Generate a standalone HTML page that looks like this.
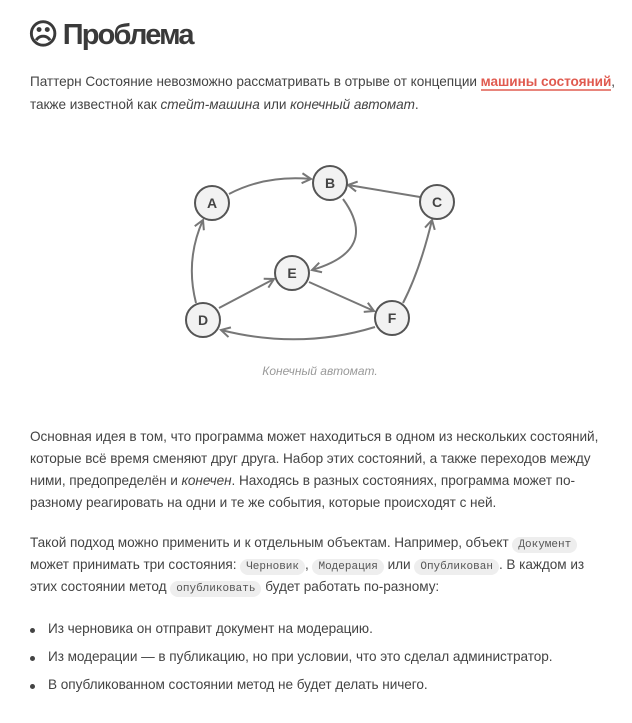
<!DOCTYPE html>
<html><head><meta charset="utf-8"><style>
body{margin:0;width:632px;height:723px;background:#fff;position:relative;overflow:hidden;font-family:"Liberation Sans",sans-serif;color:#444;}
.l{position:absolute;left:30px;font-size:13.6px;white-space:nowrap;letter-spacing:-0.05px;line-height:18px}
h1{position:absolute;left:28px;top:17px;margin:0;font-size:29px;font-weight:bold;color:#3a3a3a;letter-spacing:-1.8px}
a{color:#e05a4f;font-weight:bold;text-decoration:none;border-bottom:2px solid #e8857c}
code{font-family:"Liberation Mono",monospace;font-size:11px;background:#eee;border-radius:8px;padding:2px 6px;color:#555;letter-spacing:0}
.b{position:absolute;left:30px;width:5px;height:5px;border-radius:50%;background:#444}
</style></head><body>
<h1>☹ Проблема</h1>
<div class="l" style="top:73px">Паттерн Состояние невозможно рассматривать в отрыве от концепции <a>машины состояний</a>,</div>
<div class="l" style="top:96px">также известной как <i>стейт-машина</i> или <i>конечный автомат</i>.</div>
<svg style="position:absolute;left:0;top:0" width="632" height="400">
<defs><marker id="m" markerWidth="12" markerHeight="12" refX="10" refY="6" orient="auto" markerUnits="userSpaceOnUse"><path d="M1,1 L10,6 L1,11" fill="none" stroke="#777" stroke-width="2"/></marker></defs>
<g fill="none" stroke="#777" stroke-width="2" marker-end="url(#m)">
<path d="M229,194 Q265,175 311,179"/>
<path d="M420,197 L348,185"/>
<path d="M343,199 Q380,250 312,270"/>
<path d="M219,308 L274,279"/>
<path d="M309,282 L374,311"/>
<path d="M196,303 Q185,260 203,220"/>
<path d="M403,303 Q420,270 432,220"/>
<path d="M375,327 Q300,350 221,330"/>
</g>
<g fill="#f2f2f2" stroke="#555" stroke-width="2">
<circle cx="212" cy="203" r="17"/><circle cx="330" cy="183" r="17"/><circle cx="437" cy="202" r="17"/>
<circle cx="292" cy="273" r="17"/><circle cx="203" cy="320" r="17"/><circle cx="392" cy="318" r="17"/>
</g>
<g font-family="Liberation Sans,sans-serif" font-weight="bold" font-size="14" fill="#444" text-anchor="middle">
<text x="212" y="208">A</text><text x="330" y="188">B</text><text x="437" y="207">C</text>
<text x="292" y="278">E</text><text x="203" y="325">D</text><text x="392" y="323">F</text>
</g>
<text x="320" y="375" text-anchor="middle" font-family="Liberation Sans,sans-serif" font-style="italic" font-size="12" fill="#999">Конечный автомат.</text>
</svg>
<div class="l" style="top:428px">Основная идея в том, что программа может находиться в одном из нескольких состояний,</div>
<div class="l" style="top:450px">которые всё время сменяют друг друга. Набор этих состояний, а также переходов между</div>
<div class="l" style="top:472px">ними, предопределён и <i>конечен</i>. Находясь в разных состояниях, программа может по-</div>
<div class="l" style="top:494px">разному реагировать на одни и те же события, которые происходят с ней.</div>
<div class="l" style="top:534px">Такой подход можно применить и к отдельным объектам. Например, объект <code>Документ</code></div>
<div class="l" style="top:556px">может принимать три состояния: <code>Черновик</code>, <code>Модерация</code> или <code>Опубликован</code>. В каждом из</div>
<div class="l" style="top:578px">этих состоянии метод <code>опубликовать</code> будет работать по-разному:</div>
<div class="b" style="top:628px"></div><div class="l" style="left:48px;top:620px">Из черновика он отправит документ на модерацию.</div>
<div class="b" style="top:656px"></div><div class="l" style="left:48px;top:648px">Из модерации — в публикацию, но при условии, что это сделал администратор.</div>
<div class="b" style="top:684px"></div><div class="l" style="left:48px;top:676px">В опубликованном состоянии метод не будет делать ничего.</div>
</body></html>
